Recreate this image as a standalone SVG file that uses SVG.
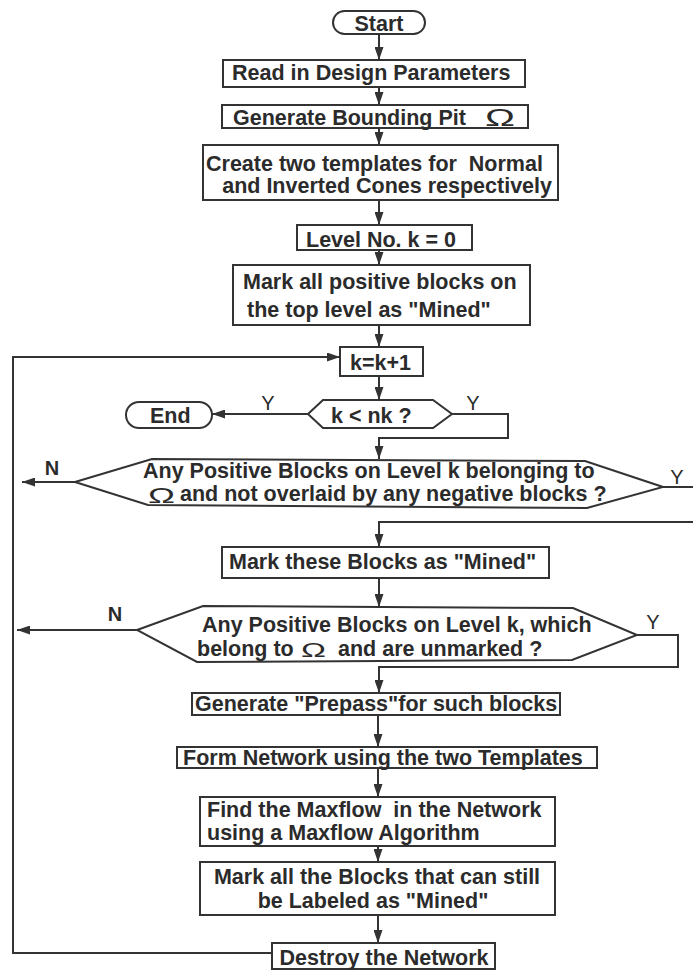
<svg xmlns="http://www.w3.org/2000/svg" width="693" height="970" viewBox="0 0 693 970">
  <style>
    .box { fill: #ffffff; stroke: #333333; stroke-width: 2; }
    .t { font-family: "Liberation Sans", Arial, Helvetica, sans-serif; font-weight: bold; font-size: 21.5px; fill: #2b2b2b; }
    .lbl { font-family: "Liberation Sans", Arial, Helvetica, sans-serif; font-size: 20px; fill: #2b2b2b; text-anchor: middle; }
    .om { font-family: "Liberation Sans", Arial, sans-serif; font-weight: normal; fill: #2b2b2b; }
    .conn { fill: none; stroke: #333333; stroke-width: 2; }
    .arr { marker-end: url(#ah); }
  </style>
  <defs>
    <marker id="ah" viewBox="0 0 13 9" refX="13" refY="4.5" markerWidth="13" markerHeight="9" orient="auto" markerUnits="userSpaceOnUse">
      <path d="M0,0 L13,4.5 L0,9 z" fill="#333333"/>
    </marker>
  </defs>

  <rect width="693" height="970" fill="#ffffff"/>

  <!-- connectors -->
  <g id="connectors">
    <path class="conn arr" d="M379,34 V60"/>
    <path class="conn arr" d="M379,87 V105"/>
    <path class="conn arr" d="M379,128 V145"/>
    <path class="conn arr" d="M379,200 V225"/>
    <path class="conn arr" d="M379,250 V265"/>
    <path class="conn arr" d="M379,325 V347"/>
    <path class="conn arr" d="M379,376 V400"/>
    <path class="conn arr" d="M308,414 H212"/>
    <path class="conn arr" d="M452,414 H508 V438 H379 V459"/>
    <path class="conn arr" d="M75,482 H22"/>
    <path class="conn" d="M663,487 H693"/>
    <path class="conn arr" d="M693,522 H379 V547"/>
    <path class="conn arr" d="M379,578 V607"/>
    <path class="conn arr" d="M137,630 H17"/>
    <path class="conn arr" d="M637,635 H678 V667 H379 V693"/>
    <path class="conn arr" d="M378,715 V747"/>
    <path class="conn arr" d="M378,768 V797"/>
    <path class="conn arr" d="M378,846 V862"/>
    <path class="conn arr" d="M378,915 V943"/>
    <path class="conn arr" d="M272,953 H13 V357 H340"/>
    <text class="lbl" x="268" y="410">Y</text>
    <text class="lbl" x="473" y="410">Y</text>
    <text class="lbl" x="52" y="475" font-weight="bold">N</text>
    <text class="lbl" x="677" y="484">Y</text>
    <text class="lbl" x="115" y="621" font-weight="bold">N</text>
    <text class="lbl" x="653" y="629">Y</text>
  </g>

  <g id="start">
    <rect class="box" x="333" y="11" width="92" height="23" rx="11.5"/>
    <text class="t" x="379" y="31" text-anchor="middle">Start</text>
  </g>

  <g id="read-params">
    <rect class="box" x="223" y="60" width="302" height="27"/>
    <text class="t" x="232" y="80" font-size="22">Read in Design Parameters</text>
  </g>

  <g id="bounding-pit">
    <rect class="box" x="222" y="105" width="306" height="23"/>
    <text class="t" x="233" y="125">Generate Bounding Pit</text>
    <text class="om" x="485" y="126" font-size="24" textLength="30" lengthAdjust="spacingAndGlyphs">Ω</text>
  </g>

  <g id="templates">
    <rect class="box" x="203" y="145" width="355" height="55"/>
    <text class="t" x="206" y="171" font-size="22.5" xml:space="preserve">Create two templates for  Normal</text>
    <text class="t" x="552" y="193" font-size="21" text-anchor="end">and Inverted Cones respectively</text>
  </g>

  <g id="level-zero">
    <rect class="box" x="297" y="225" width="175" height="25"/>
    <text class="t" x="306" y="247" font-size="22.5">Level No. k = 0</text>
  </g>

  <g id="mark-top">
    <rect class="box" x="233" y="265" width="297" height="60"/>
    <text class="t" x="243" y="289">Mark all positive blocks on</text>
    <text class="t" x="247" y="317">the top level as "Mined"</text>
  </g>

  <g id="increment">
    <rect class="box" x="340" y="347" width="83" height="29"/>
    <text class="t" x="350" y="370" font-size="22">k=k+1</text>
  </g>

  <g id="test-level">
    <polygon class="box" points="308,414 323,400 433,400 452,414 433,428 323,428"/>
    <text class="t" x="331" y="423" font-size="22">k &lt; nk ?</text>
  </g>

  <g id="end">
    <rect class="box" x="126" y="402" width="86" height="26" rx="13"/>
    <text class="t" x="150" y="423" font-size="20">End</text>
  </g>

  <g id="test-free-blocks">
    <polygon class="box" points="75,482 152,459 585,461 663,487 587,508 148,505"/>
    <text class="t" x="143" y="478">Any Positive Blocks on Level k belonging to</text>
    <text class="om" x="148" y="503" font-size="22" textLength="27" lengthAdjust="spacingAndGlyphs">Ω</text>
    <text class="t" x="180" y="501">and not overlaid by any negative blocks ?</text>
  </g>

  <g id="mark-these">
    <rect class="box" x="222" y="547" width="327" height="31"/>
    <text class="t" x="229" y="569" font-size="22">Mark these Blocks as "Mined"</text>
  </g>

  <g id="test-unmarked">
    <polygon class="box" points="137,630 203,606 573,608 637,635 572,660 197,662"/>
    <text class="t" x="202" y="632">Any Positive Blocks on Level k, which</text>
    <text class="t" x="197" y="656" font-size="22">belong to</text>
    <text class="om" x="301" y="657" font-size="21" textLength="25" lengthAdjust="spacingAndGlyphs">Ω</text>
    <text class="t" x="338" y="656" font-size="22">and are unmarked ?</text>
  </g>

  <g id="prepass">
    <rect class="box" x="192" y="693" width="368" height="22"/>
    <text class="t" x="195" y="711">Generate "Prepass"for such blocks</text>
  </g>

  <g id="form-network">
    <rect class="box" x="177" y="747" width="420" height="21"/>
    <text class="t" x="183" y="765" font-size="22">Form Network using the two Templates</text>
  </g>

  <g id="maxflow">
    <rect class="box" x="200" y="797" width="355" height="49"/>
    <text class="t" x="207" y="817" font-size="21.5" xml:space="preserve">Find the Maxflow  in the Network</text>
    <text class="t" x="207" y="840" font-size="21.5">using a Maxflow Algorithm</text>
  </g>

  <g id="mark-labeled">
    <rect class="box" x="200" y="862" width="355" height="53"/>
    <text class="t" x="377" y="884" font-size="22" text-anchor="middle">Mark all the Blocks that can still</text>
    <text class="t" x="373" y="908" font-size="22" text-anchor="middle">be Labeled as "Mined"</text>
  </g>

  <g id="destroy">
    <rect class="box" x="272" y="943" width="223" height="26"/>
    <text class="t" x="384" y="965" text-anchor="middle">Destroy the Network</text>
  </g>
</svg>
